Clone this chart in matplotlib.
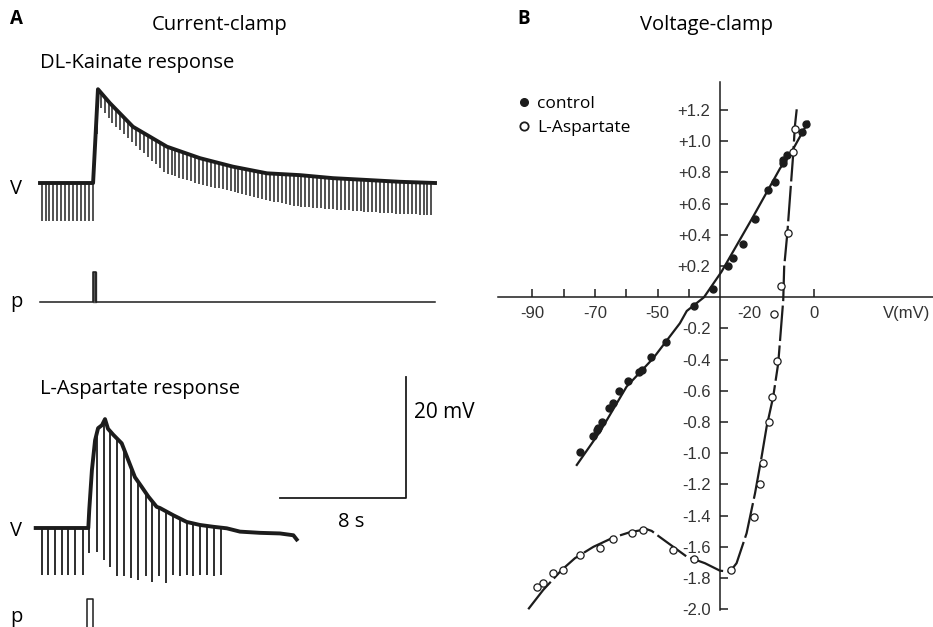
import numpy as np
import matplotlib
matplotlib.use("Agg")
import matplotlib.pyplot as plt
from matplotlib.lines import Line2D

W, H = 933, 627
PX_S = 15.75   # px per second in panel A
PX_MV = 6.05   # px per mV in panel A

# ---- panel A: DL-Kainate (current clamp), readings of the trace
kain_t = [0.0, 3.37, 3.68, 4.44, 5.90, 8.06, 10.16, 12.25, 14.41, 16.5, 18.6, 20.76, 22.86, 25.08]
kain_v = [0.0, 0.0, 15.5, 13.2, 9.3, 6.0, 4.1, 2.7, 1.6, 1.3, 0.8, 0.5, 0.2, 0.0]
# bottom of the hyperpolarising pulses
kain_bot_t = [0.0, 3.37, 3.68, 4.44, 5.9, 7.94, 10.16, 12.2, 14.3, 16.4, 18.4, 20.95, 22.86, 25.08]
kain_bot_v = [-6.3, -6.3, 13.0, 10.4, 6.6, 1.65, -0.2, -1.4, -2.8, -3.9, -4.3, -4.8, -5.1, -5.3]
kain_pulse_period = 0.25
kain_p_t = [0.0, 3.37, 3.37, 3.56, 3.56, 25.08]
kain_p_v = [0.0, 0.0, 5.06, 5.06, 0.0, 0.0]

# ---- panel A: L-Aspartate
asp_t = [0.0, 3.34, 3.40, 3.57, 3.77, 3.96, 4.21, 4.40, 4.59, 4.93, 5.46, 5.88, 6.30, 6.73,
         7.15, 7.68, 7.89, 8.74, 9.59, 10.43, 11.28, 12.13, 12.97, 14.24, 15.51, 16.36, 16.57]
asp_v = [0.0, 0.0, 3.0, 9.6, 14.5, 16.5, 17.0, 18.0, 16.4, 15.4, 14.0, 11.2, 8.4, 6.8,
         5.2, 3.5, 3.3, 2.1, 1.0, 0.5, 0.2, -0.05, -0.6, -0.8, -0.9, -1.2, -1.9]
asp_pulse_t = [0.38, 0.80, 1.23, 1.65, 2.07, 2.50, 2.98, 3.40, 3.87, 4.34, 4.72, 5.18, 5.61, 6.05,
               6.51, 6.98, 7.40, 7.83, 8.25, 8.70, 9.16, 9.59, 10.01, 10.43, 10.90, 11.34, 11.77]
asp_pulse_bot = [-7.8, -7.8, -7.8, -7.8, -7.8, -7.8, -7.8, -4.2, -3.9, -5.3, -6.4, -8.0, -8.0, -8.3,
                 -8.6, -8.0, -8.9, -8.0, -9.1, -7.7, -8.0, -7.7, -8.0, -7.7, -7.7, -8.0, -7.7]
asp_p_t = [3.26, 3.26, 3.64, 3.64]
asp_p_v = [0.0, 6.8, 6.8, 0.0]

# ---- panel B: I-V relation (voltage clamp)
ctrl_v = [-2.6, -4.0, -8.6, -9.9, -10.1, -12.5, -14.7, -18.9, -22.9, -25.8, -27.4, -32.2, -38.3,
          -47.3, -52.2, -55.1, -55.9, -59.4, -62.2, -64.3, -65.4, -67.9, -68.9, -69.4, -70.7, -74.8]
ctrl_i = [1.11, 1.06, 0.91, 0.88, 0.86, 0.74, 0.69, 0.50, 0.34, 0.25, 0.20, 0.055, -0.056,
          -0.29, -0.385, -0.466, -0.48, -0.54, -0.60, -0.676, -0.71, -0.80, -0.84, -0.85, -0.89, -0.99]
ctrl_fit_v = [-75.8, -68.4, -59.9, -51.4, -42.9, -40.7, -35.2, -29.6, -19.5, -10.9, -7.8, -1.9]
ctrl_fit_i = [-1.075, -0.862, -0.573, -0.391, -0.167, -0.088, 0.0, 0.164, 0.517, 0.827, 0.912, 1.126]

asp_pts_v = [-6.2, -6.7, -8.3, -10.6, -12.9, -12.0, -13.4, -14.6, -16.3, -17.3, -19.2, -26.6,
             -38.4, -45.0, -54.8, -58.3, -64.2, -68.4, -74.8, -80.3, -83.3, -86.7, -88.4]
asp_pts_i = [1.08, 0.93, 0.41, 0.07, -0.107, -0.41, -0.64, -0.80, -1.06, -1.20, -1.41, -1.75,
             -1.68, -1.62, -1.49, -1.51, -1.55, -1.61, -1.65, -1.75, -1.765, -1.83, -1.855]
asp_fit_v = [-91.3, -86.5, -80.6, -76.4, -70.5, -64.1, -58.8, -53.5, -51.9, -49.8, -45.0, -40.7,
             -34.9, -30.1, -26.9, -24.8, -21.6, -18.9, -16.8, -15.2, -13.1, -11.5, -9.9, -9.6,
             -8.6, -7.5, -6.7, -6.2, -5.6]
asp_fit_i = [-2.0, -1.876, -1.748, -1.673, -1.60, -1.54, -1.506, -1.487, -1.498, -1.53, -1.60, -1.663,
             -1.705, -1.753, -1.759, -1.705, -1.513, -1.256, -1.022, -0.83, -0.637, -0.423, -0.017,
             0.196, 0.41, 0.709, 0.923, 1.094, 1.205]

yticks = [-2.0, -1.8, -1.6, -1.4, -1.2, -1.0, -0.8, -0.6, -0.4, -0.2, 0.2, 0.4, 0.6, 0.8, 1.0, 1.2]
xticks = [-90, -80, -70, -60, -50, -40, 0]
xtick_labels = ["-90", "", "-70", "", "-50", "", "0"]


def px_rect(x0, y0, x1, y1):
    return [x0 / W, 1 - y1 / H, (x1 - x0) / W, (y1 - y0) / H]


TXT = "Open Sans"
TICK = "Liberation Sans"
INK = "#1c1c1c"
GREY = "#333333"

fig = plt.figure(figsize=(W / 100, H / 100), dpi=100)

# ------------------------------------------------ panel A
axA = fig.add_axes(px_rect(0, 0, 466, 627))
axA.set_xlim(-40 / PX_S, (466 - 40) / PX_S)
axA.set_ylim((183 - 627) / PX_MV, 183 / PX_MV)
axA.axis("off")

kain_p_off = (183 - 302.3) / PX_MV
asp_off = (183 - 528) / PX_MV
asp_p_off = (183 - 640) / PX_MV
asp_t_off = (35.7 - 40) / PX_S

# kainate V trace
pt = np.arange(0.1, kain_t[-1], kain_pulse_period)
tops = np.interp(pt, kain_t, kain_v)
bots = np.interp(pt, kain_bot_t, kain_bot_v)
axA.vlines(pt, bots, tops, color="#222222", lw=1.1)
axA.plot(kain_t, kain_v, color=INK, lw=2.8, solid_joinstyle="round")
# kainate p trace
axA.plot(kain_p_t, np.array(kain_p_v) + kain_p_off, color=INK, lw=1.1)
axA.fill_between(kain_p_t[2:4], kain_p_off, kain_p_off + 5.06, color="#555")

# aspartate V trace
at = np.array(asp_pulse_t) + asp_t_off
atop = np.interp(asp_pulse_t, asp_t, asp_v) + asp_off
axA.vlines(at, np.array(asp_pulse_bot) + asp_off, atop, color=INK, lw=1.3)
axA.plot(np.array(asp_t) + asp_t_off, np.array(asp_v) + asp_off, color=INK, lw=2.8,
         solid_joinstyle="round")
axA.plot(np.array(asp_p_t) + asp_t_off, np.array(asp_p_v) + asp_p_off, color=INK, lw=1.1)

# scale bar 8 s / 20 mV
sb_t = (406 - 40) / PX_S
sb_v = (183 - 498) / PX_MV
axA.plot([sb_t - 8, sb_t, sb_t], [sb_v, sb_v, sb_v + 20], color=INK, lw=1.3)

fs = 14.5
fig.text(10 / W, 1 - 19 / H, "A", fontsize=13.5, fontweight="bold", family=TXT, va="center")
fig.text(517 / W, 1 - 19 / H, "B", fontsize=13.5, fontweight="bold", family=TXT, va="center")
fig.text(220 / W, 1 - 25 / H, "Current-clamp", fontsize=fs, family=TXT, ha="center", va="center")
fig.text(706 / W, 1 - 25 / H, "Voltage-clamp", fontsize=fs, family=TXT, ha="center", va="center")
fig.text(40 / W, 1 - 63 / H, "DL-Kainate response", fontsize=fs, family=TXT, va="center")
fig.text(40 / W, 1 - 389 / H, "L-Aspartate response", fontsize=fs, family=TXT, va="center")
fig.text(10 / W, 1 - 189 / H, "V", fontsize=fs, family=TXT, va="center")
fig.text(10 / W, 1 - 302 / H, "p", fontsize=fs, family=TXT, va="center")
fig.text(10 / W, 1 - 531 / H, "V", fontsize=fs, family=TXT, va="center")
fig.text(10 / W, 1 - 617 / H, "p", fontsize=fs, family=TXT, va="center")
fig.text(414 / W, 1 - 412 / H, "20 mV", fontsize=15, family=TXT, va="center")
fig.text(351 / W, 1 - 522 / H, "8 s", fontsize=fs, family=TXT, ha="center", va="center")

# ------------------------------------------------ panel B
axB = fig.add_axes(px_rect(498, 82, 933, 610))
axB.set_xlim(-100.95, 37.9)
axB.set_ylim(-2.005, 1.38)
for s in ["top", "right"]:
    axB.spines[s].set_visible(False)
axB.spines["left"].set_position(("data", -30))
axB.spines["bottom"].set_position(("data", 0))
for s in ["left", "bottom"]:
    axB.spines[s].set_linewidth(1.1)
    axB.spines[s].set_color(INK)
axB.set_yticks(yticks)
axB.set_yticklabels([("+%.1f" % v) if v > 0 else ("%.1f" % v) for v in yticks])
axB.set_xticks(xticks)
axB.set_xticklabels(xtick_labels)
tfs = 12
axB.tick_params(axis="y", direction="in", length=6, width=1.1, pad=7, labelsize=tfs,
                colors=INK)
axB.tick_params(axis="x", direction="in", length=6, width=1.1, pad=6, labelsize=tfs,
                colors=INK)
for lab in axB.get_xticklabels() + axB.get_yticklabels():
    lab.set_family(TICK)
    lab.set_color(GREY)
axB.annotate("-20", (-20.8, 0), xytext=(0, -6), textcoords="offset points", family=TICK,
             fontsize=tfs, color=GREY, ha="center", va="top")
axB.annotate("V(mV)", (29.5, 0), xytext=(0, -6), textcoords="offset points", family=TICK,
             fontsize=tfs, color=GREY, ha="center", va="top")

axB.plot(ctrl_fit_v, ctrl_fit_i, color=INK, lw=1.6, clip_on=False)
axB.plot(asp_fit_v, asp_fit_i, color=INK, lw=1.6, ls=(0, (16, 2)), clip_on=False)
axB.plot(ctrl_v, ctrl_i, "o", ms=5, color=INK, clip_on=False)
axB.plot(asp_pts_v, asp_pts_i, "o", ms=5.2, mfc="white", mec=INK, mew=0.9, clip_on=False)

handles = [Line2D([], [], ls="", marker="o", ms=5.5, color=INK),
           Line2D([], [], ls="", marker="o", ms=6, mfc="white", mec=INK, mew=1.3)]
fig.legend(handles, ["control", "L-Aspartate"], loc="upper left",
           bbox_to_anchor=(519 / W, 1 - 96 / H), frameon=False, handlelength=0.6,
           handletextpad=0.45, labelspacing=0.42, borderaxespad=0, borderpad=0,
           prop={"family": TXT, "size": 12.5})

fig.savefig("out.png", dpi=100)
